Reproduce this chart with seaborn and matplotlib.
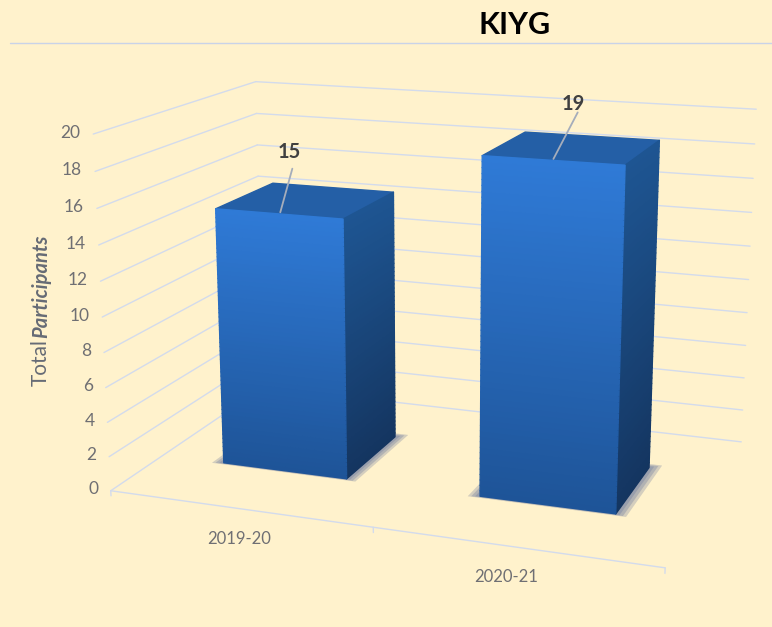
import numpy as np
import matplotlib
matplotlib.use("Agg")
import matplotlib.pyplot as plt
from matplotlib.lines import Line2D
import seaborn as sns

# data
categories = ["2019-20", "2020-21"]
participants = [15, 19]
y_ticks = [0, 2, 4, 6, 8, 10, 12, 14, 16, 18, 20]

BG = "#FFF2CC"
GRID = "#D3DBEC"
TICK = "#6F6F73"

sns.set_theme(style="white", rc={"figure.facecolor": BG, "savefig.facecolor": BG})
plt.rcParams["font.family"] = ["Lato", "DejaVu Sans"]

fig = plt.figure(figsize=(7.72, 6.27), dpi=100)
ax = fig.add_subplot(projection="3d", computed_zorder=False)
ax.set_position([63.10 / 772, -45.04 / 627, 729.18 / 772, 729.18 / 627])
ax.patch.set_alpha(0)
ax.set_xlim(0, 2)
ax.set_ylim(0, 1)
ax.set_zlim(0, 20)
ax.set_xticks([])
ax.set_yticks([])
ax.set_zticks([])
ax.set_axis_off()
for axis in (ax.xaxis, ax.yaxis, ax.zaxis):
    axis.set_visible(False)
    axis.label.set_visible(False)
    axis.offsetText.set_visible(False)
for t in (ax.title, ax._left_title, ax._right_title):
    t.set_visible(False)
ax.view_init(elev=15.075, azim=-70.125, roll=0.0055)
ax.set_proj_type("persp", focal_length=0.4686)
ax.set_box_aspect((2.0363, 1.2938, 1.3))

# walls
for t in y_ticks:
    ax.plot([0, 0], [0, 1], [t, t], color=GRID, lw=1, zorder=1)
    ax.plot([0, 2], [1, 1], [t, t], color=GRID, lw=1, zorder=1)
    ax.text(-0.05, 0, t, str(t), ha="right", va="center", fontsize=12.5, color=TICK)

# floor front edge with its ticks
ax.plot([0, 2], [0, 0], [0, 0], color=GRID, lw=1, zorder=1)
for i in range(len(categories) + 1):
    ax.plot([i, i], [0, 0], [0, -0.3], color=GRID, lw=1, zorder=1)

bar_w = 0.49
y0, depth = 0.31, 0.38
centers = [0.494, 1.491]
strips = 60
front = sns.blend_palette(["#1E5498", "#2F7AD6"], strips)
side = sns.blend_palette(["#143560", "#1E5592"], strips)
top = "#245FA6"
clear = (0, 0, 0, 0)
z = 2

for i, val in enumerate(participants):
    x0 = centers[i] - bar_w / 2

    # soft shadow on the floor
    for grow, a in [(0.04, 0.2), (0.028, 0.25), (0.015, 0.35)]:
        ax.bar3d(x0 - grow, y0 - grow * 0.3, 0, bar_w + 2 * grow, depth + grow, 0.01,
                 color="#8890A8", alpha=a, shade=False, linewidth=0, zorder=z)
        z += 1

    # stacked strips give the vertical gradient
    edges = np.linspace(0, val, strips + 1)
    for k in range(strips):
        # faces: -Z, +Z, -Y, +Y, -X, +X
        lid = top if k == strips - 1 else clear
        cols = [clear, lid, front[k], clear, clear, side[k]]
        ax.bar3d(x0, y0, edges[k], bar_w, depth, edges[k + 1] - edges[k],
                 color=cols, edgecolor=cols, linewidth=1.0, shade=False, zorder=z)
        z += 1

# category labels
label_x = [0.5, 1.47]
for xc, cat in zip(label_x, categories):
    ax.text(xc, 0, -1.75, cat, ha="center", va="center", fontsize=12, color=TICK)

# value labels with leader lines
lead_dx = [0.05, 0.08]
lead_dz = [2.5, 2.5]
lab_dx = [0.04, 0.065]
lab_dz = [3.4, 2.9]
for i, val in enumerate(participants):
    xc = centers[i] - 0.005
    ax.plot([xc, xc + lead_dx[i]], [y0 + 0.02, y0 + 0.02], [val, val + lead_dz[i]],
            color="#A5ADBB", lw=1.3, zorder=z)
    ax.text(xc + lab_dx[i], y0 + 0.02, val + lab_dz[i], str(val), ha="center", va="center",
            fontsize=14.5, fontweight="bold", color="#404040", zorder=z + 1)

# title and the rule under it
fig.text(515 / 772, 1 - 25 / 627, "KIYG", ha="center", va="center", fontsize=22,
         fontweight="bold", color="black")
fig.add_artist(Line2D([10 / 772, 1], [1 - 43 / 627] * 2, color="#C9D3E8", lw=1))

# axis title, two styles
fig.text(41 / 772, 1 - 386 / 627, "Total", rotation=90, ha="center", va="bottom",
         fontsize=15, color="#666B75")
fig.text(41 / 772, 1 - 338 / 627, "Participants", rotation=90, ha="center", va="bottom",
         fontsize=14.5, fontweight="bold", fontstyle="italic", color="#666B75")

fig.savefig("out.png", dpi=100)
